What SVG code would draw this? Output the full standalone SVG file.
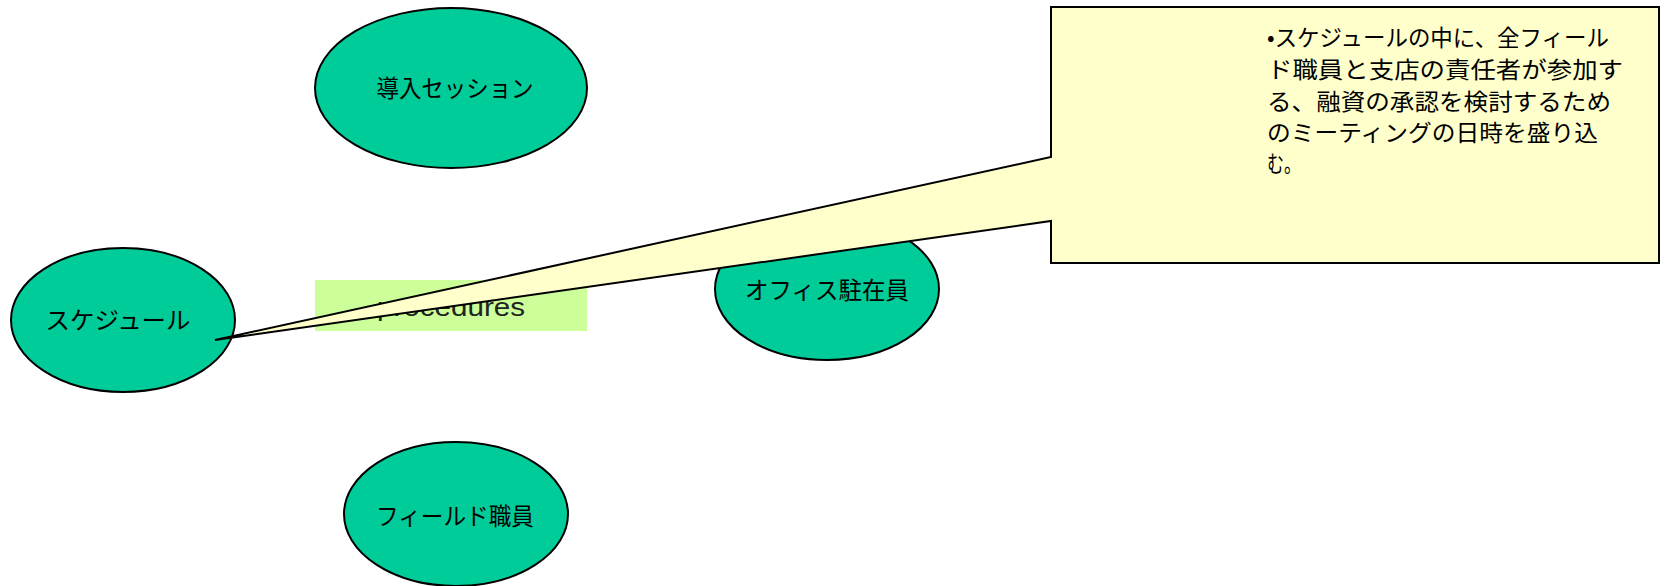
<svg xmlns="http://www.w3.org/2000/svg" width="1665" height="586" viewBox="0 0 1665 586">
<style>
.node ellipse{fill:#00CC99;stroke:#000;stroke-width:2}
.lbl{font-family:"Noto Sans CJK JP","Liberation Sans",sans-serif;font-size:24px;fill:#000;text-anchor:middle;dominant-baseline:central}
.call{font-family:"Noto Sans CJK JP","Liberation Sans",sans-serif;font-size:23px;fill:#000}
.proc{font-family:"Liberation Sans",Arial,sans-serif;font-size:26px;fill:#222}
</style>
<rect width="1665" height="586" fill="#fff"/>
<g id="node-intro" class="node">
<ellipse cx="451" cy="88" rx="136" ry="80"/>
<text class="lbl" x="455" y="86" textLength="157" lengthAdjust="spacingAndGlyphs">導入セッション</text>
</g>
<g id="node-schedule" class="node">
<ellipse cx="123" cy="320" rx="112" ry="72"/>
<text class="lbl" x="118" y="318" textLength="145" lengthAdjust="spacingAndGlyphs">スケジュール</text>
</g>
<g id="node-office" class="node">
<ellipse cx="827" cy="289" rx="112" ry="71"/>
<text class="lbl" x="827" y="288" textLength="164" lengthAdjust="spacingAndGlyphs">オフィス駐在員</text>
</g>
<g id="node-field" class="node">
<ellipse cx="456" cy="514" rx="112" ry="72"/>
<text class="lbl" x="455" y="514" textLength="158" lengthAdjust="spacingAndGlyphs">フィールド職員</text>
</g>
<g id="node-procedures">
<rect x="315" y="280" width="272" height="51" fill="#CCFF99"/>
<text class="proc" x="377" y="316" textLength="148" lengthAdjust="spacingAndGlyphs">procedures</text>
</g>
<g id="connectors">
<g id="callout">
<polygon points="1051,7 1659,7 1659,263 1051,263 1051,221 215,340 1051,157" fill="#FFFFCC" stroke="#000" stroke-width="2" stroke-linejoin="miter"/>
<text class="call" x="1267" y="46" textLength="342" lengthAdjust="spacingAndGlyphs">•スケジュールの中に、全フィール</text>
<text class="call" x="1267" y="78" textLength="356" lengthAdjust="spacingAndGlyphs">ド職員と支店の責任者が参加す</text>
<text class="call" x="1267" y="110" textLength="344" lengthAdjust="spacingAndGlyphs">る、融資の承認を検討するため</text>
<text class="call" x="1267" y="141" textLength="331" lengthAdjust="spacingAndGlyphs">のミーティングの日時を盛り込</text>
<text class="call" x="1267" y="172" textLength="34" lengthAdjust="spacingAndGlyphs">む。</text>
</g>
</g>
</svg>
